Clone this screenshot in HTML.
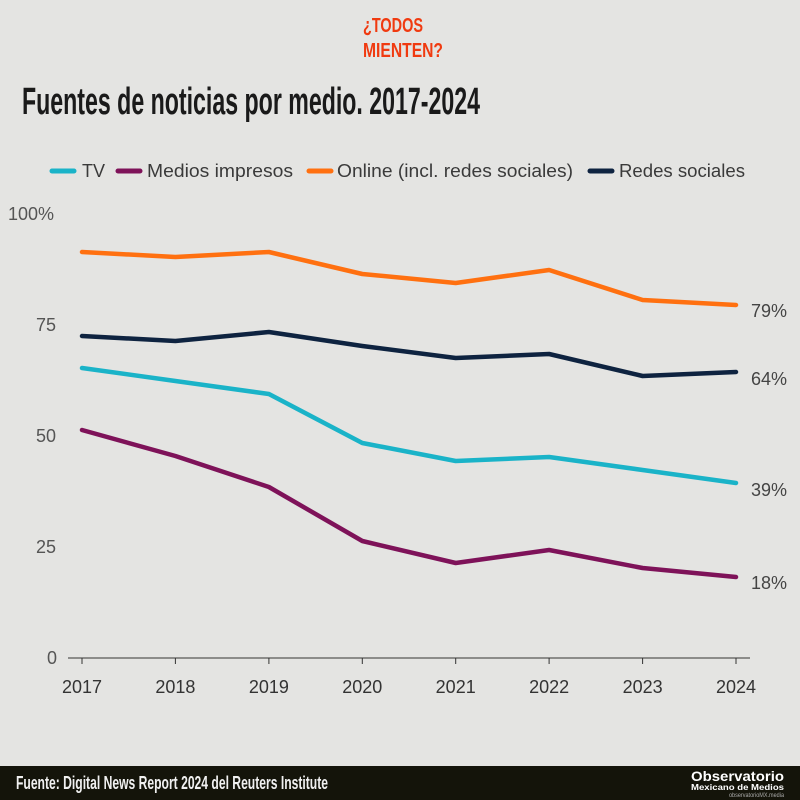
<!DOCTYPE html>
<html><head><meta charset="utf-8"><style>
html,body{margin:0;padding:0;background:#e4e4e2;}
svg{display:block;font-family:"Liberation Sans",sans-serif;}
</style></head><body>
<svg width="800" height="800" viewBox="0 0 800 800" xmlns="http://www.w3.org/2000/svg">
<rect width="800" height="800" fill="#e4e4e2"/>
<text x="363" y="32" font-size="20" font-weight="bold" fill="#f03a10" textLength="60" lengthAdjust="spacingAndGlyphs">¿TODOS</text>
<text x="363" y="57" font-size="20" font-weight="bold" fill="#f03a10" textLength="80" lengthAdjust="spacingAndGlyphs">MIENTEN?</text>
<text x="22" y="114" font-size="38" font-weight="bold" fill="#1a1a1a" textLength="458" lengthAdjust="spacingAndGlyphs">Fuentes de noticias por medio. 2017-2024</text>
<g font-size="18" fill="#3a3a3a">
<line x1="52" y1="171" x2="74" y2="171" stroke="#1ab3c8" stroke-width="5" stroke-linecap="round"/>
<text x="82" y="177">TV</text>
<line x1="118" y1="171" x2="140" y2="171" stroke="#7e1259" stroke-width="5" stroke-linecap="round"/>
<text x="147" y="177" textLength="146" lengthAdjust="spacingAndGlyphs">Medios impresos</text>
<line x1="309" y1="171" x2="331" y2="171" stroke="#ff7010" stroke-width="5" stroke-linecap="round"/>
<text x="337" y="177" textLength="236" lengthAdjust="spacingAndGlyphs">Online (incl. redes sociales)</text>
<line x1="590" y1="171" x2="612" y2="171" stroke="#0e2340" stroke-width="5" stroke-linecap="round"/>
<text x="619" y="177" textLength="126" lengthAdjust="spacingAndGlyphs">Redes sociales</text>
</g>
<g font-size="18" fill="#555">
<text x="8" y="220">100%</text>
<text x="36" y="331">75</text>
<text x="36" y="442">50</text>
<text x="36" y="553">25</text>
<text x="47" y="664">0</text>
</g>
<line x1="68" y1="658" x2="750" y2="658" stroke="#333" stroke-width="1"/>
<g stroke="#333" stroke-width="1">
<line x1="82" y1="658" x2="82" y2="664"/><line x1="175.4" y1="658" x2="175.4" y2="664"/><line x1="268.9" y1="658" x2="268.9" y2="664"/><line x1="362.3" y1="658" x2="362.3" y2="664"/><line x1="455.7" y1="658" x2="455.7" y2="664"/><line x1="549.1" y1="658" x2="549.1" y2="664"/><line x1="642.6" y1="658" x2="642.6" y2="664"/><line x1="736" y1="658" x2="736" y2="664"/>
</g>
<g font-size="18" fill="#333" text-anchor="middle">
<text x="82" y="693">2017</text><text x="175.4" y="693">2018</text><text x="268.9" y="693">2019</text><text x="362.3" y="693">2020</text><text x="455.7" y="693">2021</text><text x="549.1" y="693">2022</text><text x="642.6" y="693">2023</text><text x="736" y="693">2024</text>
</g>
<g fill="none" stroke-width="4.5" stroke-linejoin="round" stroke-linecap="round">
<polyline stroke="#ff7010" points="82,252 175.4,257 268.9,252 362.3,274 455.7,283 549.1,270 642.6,300 736,305"/>
<polyline stroke="#0e2340" points="82,336 175.4,341 268.9,332 362.3,346 455.7,358 549.1,354 642.6,376 736,372"/>
<polyline stroke="#1ab3c8" points="82,368 175.4,381 268.9,394 362.3,443 455.7,461 549.1,457 642.6,470 736,483"/>
<polyline stroke="#7e1259" points="82,430 175.4,456 268.9,487 362.3,541 455.7,563 549.1,550 642.6,568 736,577"/>
</g>
<g font-size="18" fill="#444">
<text x="751" y="317">79%</text>
<text x="751" y="385">64%</text>
<text x="751" y="496">39%</text>
<text x="751" y="589">18%</text>
</g>
<rect x="0" y="766" width="800" height="34" fill="#14140a"/>
<text x="16" y="789" font-size="18" font-weight="bold" fill="#f0f0f0" textLength="312" lengthAdjust="spacingAndGlyphs">Fuente: Digital News Report 2024 del Reuters Institute</text>
<text x="784" y="781" font-size="14" font-weight="bold" fill="#fff" text-anchor="end" textLength="93" lengthAdjust="spacingAndGlyphs">Observatorio</text>
<text x="784" y="790" font-size="8" font-weight="bold" fill="#fff" text-anchor="end" textLength="93" lengthAdjust="spacingAndGlyphs">Mexicano de Medios</text>
<text x="784" y="797" font-size="6" fill="#aaa" text-anchor="end" textLength="55" lengthAdjust="spacingAndGlyphs">observatorioMX.media</text>
</svg>
</body></html>
